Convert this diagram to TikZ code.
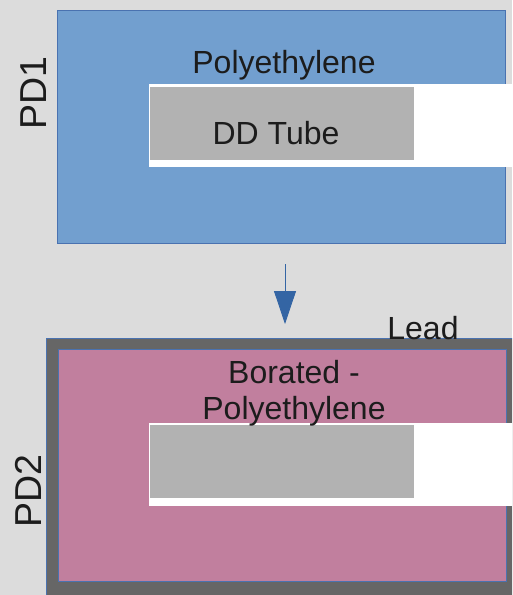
\documentclass[tikz,border=0pt]{standalone}
\usepackage{fontspec}
\setmainfont{Liberation Sans}
\usetikzlibrary{arrows.meta}
\definecolor{bgc}{HTML}{DCDCDC}
\definecolor{pefill}{HTML}{729FCF}
\definecolor{edgeblue}{HTML}{4A72B0}
\definecolor{bpefill}{HTML}{C17F9E}
\definecolor{leadc}{HTML}{666666}
\definecolor{tubec}{HTML}{B2B2B2}
\definecolor{arrowc}{HTML}{3465A4}
\definecolor{txt}{HTML}{1C1C1C}
\tikzset{
  blk/.style={rectangle, inner sep=0pt, outer sep=0pt, anchor=north west},
  pebox/.style={blk, fill=pefill, draw=edgeblue, line width=0.8pt},
  bpebox/.style={blk, fill=bpefill, draw=edgeblue, line width=0.8pt},
  leadbox/.style={blk, fill=leadc, draw=edgeblue, line width=0.8pt},
  slot/.style={blk, fill=white, draw=none},
  tube/.style={blk, fill=tubec, draw=none},
  lbl/.style={text=txt, font=\fontsize{32}{36}\selectfont, inner sep=0pt, align=center},
  pdlbl/.style={text=txt, font=\fontsize{37.5}{40}\selectfont, inner sep=0pt, rotate=90},
  flow/.style={draw=arrowc, line width=0.8pt, -{Triangle[width=22pt,length=33pt]}, arrowc}
}
\begin{document}
\begin{tikzpicture}[x=1pt,y=-1pt]
\useasboundingbox (0,0) rectangle (512,595);
\fill[bgc] (0,0) rectangle (512,595);
\begin{scope}
\clip (0,0) rectangle (512,595);
% PD1
\node[pebox, minimum width=448pt, minimum height=233pt] (pd1box) at (57,10) {};
\node[slot, minimum width=370pt, minimum height=83pt] (slot1) at (149,84) {};
\node[tube, minimum width=264pt, minimum height=73pt] (tube1) at (150,87) {};
\node[lbl] (pe1) at (284,65) {Polyethylene};
\node[lbl] (dd) at (276,133) {DD Tube};
\node[pdlbl] (pd1) at (34,93) {PD1};
% arrow
\coordinate (a1) at (285,264);
\coordinate (a2) at (285,324);
\draw[flow] (a1) -- (a2);
% PD2
\node[leadbox, minimum width=480pt, minimum height=270pt] (leadbox) at (46.5,338.5) {};
\node[bpebox, minimum width=448pt, minimum height=232pt] (pd2box) at (58,349) {};
\node[slot, minimum width=370pt, minimum height=83pt] (slot2) at (149,423) {};
\node[tube, minimum width=264pt, minimum height=73pt] (tube2) at (150,425) {};
\node[lbl] (lead) at (423,328) {Lead};
\node[lbl] (bpe) at (294,393) {Borated -\\[0pt]Polyethylene};
\node[pdlbl] (pd2) at (28,491) {PD2};
\end{scope}
\end{tikzpicture}
\end{document}
